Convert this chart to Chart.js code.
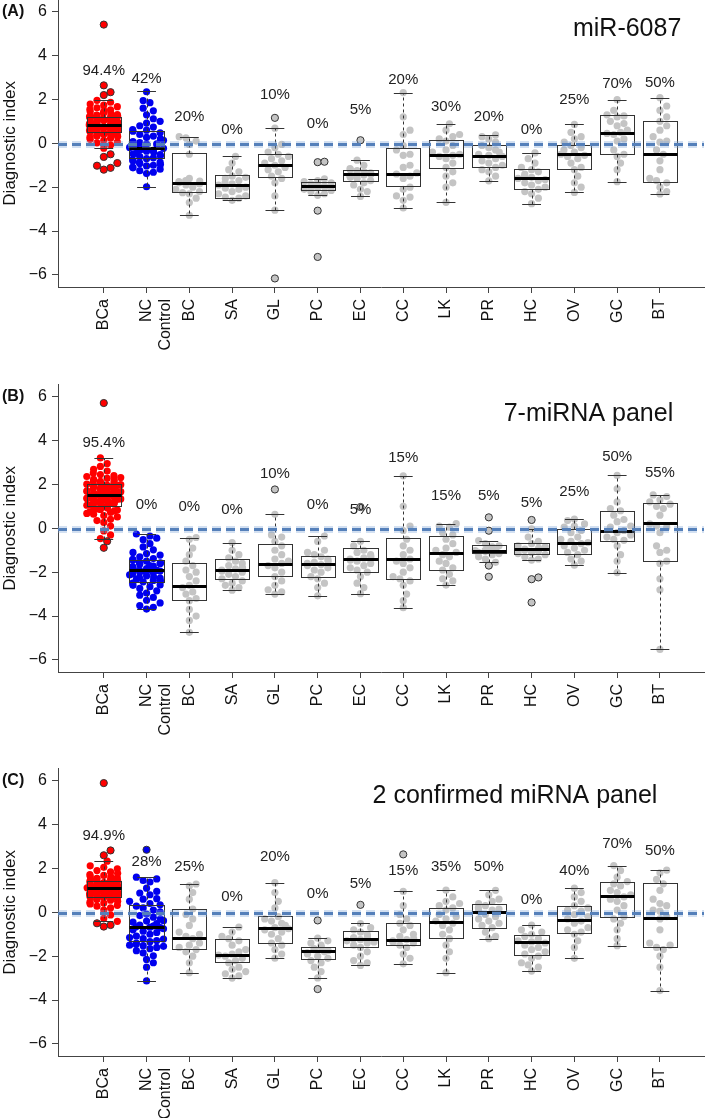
<!DOCTYPE html>
<html>
<head>
<meta charset="utf-8">
<script src="https://cdn.jsdelivr.net/npm/chart.js@4/dist/chart.umd.min.js"></script>
<style>
  body { margin: 0; background: #fff; width: 709px; height: 1118px; overflow: hidden; position: relative; }
  .panel { position: absolute; left: 0; width: 709px; height: 385px; }
</style>
</head>
<body>
<div class="panel" style="top:-15px"><canvas id="panelA" width="709" height="385"></canvas></div>
<div class="panel" style="top:370px"><canvas id="panelB" width="709" height="385"></canvas></div>
<div class="panel" style="top:754px"><canvas id="panelC" width="709" height="385"></canvas></div>
<script>
// categories and axis ticks
var categories = ['BCa', ['NC', 'Control'], 'BC', 'SA', 'GL', 'PC', 'EC', 'CC', 'LK', 'PR', 'HC', 'OV', 'GC', 'BT'];
var yTickValues = [-6, -4, -2, 0, 2, 4, 6];
var cutoff = -0.06;
var panelTags = ['(A)', '(B)', '(C)'];
var panelTitles = ['miR-6087', '7-miRNA panel', '2 confirmed miRNA panel'];

// percentages above each box
var pctA = ['94.4%', '42%', '20%', '0%', '10%', '0%', '5%', '20%', '30%', '20%', '0%', '25%', '70%', '50%'];
var pctB = ['95.4%', '0%', '0%', '0%', '10%', '0%', '5%', '15%', '15%', '5%', '5%', '25%', '50%', '55%'];
var pctC = ['94.9%', '28%', '25%', '0%', '20%', '0%', '5%', '15%', '35%', '50%', '0%', '40%', '70%', '50%'];

// box stats: [lower whisker, q1, median, q3, upper whisker]
var boxA = [[-0.22, 0.53, 0.83, 1.18, 1.96], [-1.98, -0.69, -0.23, 0.56, 2.39], [-3.28, -2.24, -1.83, -0.45, 0.3],
  [-2.6, -2.48, -1.89, -1.45, -0.6], [-3.05, -1.54, -1.0, -0.5, 0.69], [-2.37, -2.11, -1.93, -1.78, -1.62],
  [-2.42, -1.74, -1.4, -1.21, -0.77], [-2.95, -1.93, -1.39, -0.21, 2.31], [-2.69, -1.13, -0.53, 0.14, 0.89],
  [-1.71, -1.09, -0.57, -0.08, 0.38], [-2.75, -2.07, -1.57, -1.18, -0.44], [-2.24, -1.18, -0.5, -0.06, 0.86],
  [-1.75, -0.48, 0.48, 1.28, 1.99], [-2.31, -1.75, -0.5, 1.03, 2.08]];
var boxB = [[-0.47, 1.02, 1.52, 2.0, 3.21], [-3.68, -2.44, -1.92, -1.45, -0.26], [-4.74, -3.29, -2.64, -1.56, -0.42],
  [-2.82, -2.33, -1.92, -1.39, -0.65], [-3.0, -2.17, -1.62, -0.73, 0.64], [-3.08, -2.24, -1.61, -1.24, -0.35],
  [-2.98, -1.98, -1.41, -0.92, -0.59], [-3.62, -2.33, -1.42, -0.42, 2.39], [-2.59, -1.88, -1.14, -0.33, 0.21],
  [-1.55, -1.11, -1.02, -0.76, -0.56], [-1.45, -1.18, -0.95, -0.65, -0.03], [-1.68, -1.15, -0.65, -0.03, 0.42],
  [-2.02, -0.59, -0.14, 0.77, 2.41], [-5.52, -1.5, 0.23, 1.15, 1.52]];
var boxC = [[-0.41, 0.72, 1.09, 1.41, 2.33], [-3.13, -1.29, -0.66, 0.34, 1.6], [-2.75, -1.66, -1.18, 0.14, 1.29],
  [-3.0, -2.27, -1.95, -1.23, -0.67], [-2.09, -1.4, -0.71, -0.18, 1.35], [-2.99, -2.15, -1.75, -1.56, -1.18],
  [-2.42, -1.58, -1.21, -0.84, -0.51], [-2.35, -1.49, -1.26, -0.48, 0.95], [-2.75, -1.15, -0.43, 0.18, 1.01],
  [-1.2, -0.72, 0.03, 0.38, 1.0], [-2.68, -1.95, -1.37, -1.03, -0.58], [-2.1, -0.95, -0.34, 0.29, 1.1],
  [-1.52, -0.2, 0.74, 1.38, 2.13], [-3.57, -1.6, -0.25, 1.32, 1.92]];

// individual samples (within whiskers)
var pointsA = [
  [0.82, 1.12, 0.45, 0.67, 1.35, 0.91, 0.23, 0.58, 1.74, 0.76, 1.05, 0.39, 0.88, 1.21, 0.62, 0.14, 0.97, 1.48, 0.71, 0.53, 1.16, 0.84, 0.31, 1.62, 0.95, 0.69, 1.28, 0.48, 0.79, 1.02, 0.06, 0.57, 1.41, 0.86, 0.73, 1.19, 0.35, 0.92, 1.55, 0.64, 0.81, 1.08, 0.27, 0.99, 1.31, 0.51, 0.77, 1.87, 0.42, 0.89, 1.13, 0.66, -0.08, 0.74, 1.24, 0.59, 0.93, 1.67, 0.18, 0.83, 1.06, 0.47, 1.38, 0.7, 0.96, 0.55, 1.18, -0.22, 0.86, 1.45, 0.61, 0.78, 1.96, 0.33, 1.01, 0.68, 1.27, 0.9, 0.44, 1.1, 0.8, 0.02, 1.52, 0.63, 0.87, 1.22, 0.37, 1.79, 0.75, 1.09],
  [2.35, 1.95, 1.85, 1.6, 1.48, 1.3, 1.12, 1.0, 0.92, 0.8, 0.74, 0.6, 0.55, 0.48, 0.4, 0.33, 0.27, 0.2, 0.14, 0.08, 0.03, -0.04, -0.08, -0.13, -0.19, -0.23, -0.27, -0.32, -0.36, -0.41, -0.46, -0.52, -0.57, -0.61, -0.66, -0.7, -0.76, -0.81, -0.86, -0.92, -0.97, -1.03, -1.08, -1.12, -1.18, -1.25, -1.32, -1.38, -0.02, 0.62, -0.48, -0.88, -0.3, -1.0, -1.98],
  [0.3, 0.25, 0.1, -0.05, -0.5, -1.6, -1.7, -1.75, -1.8, -1.85, -1.9, -2.0, -2.1, -2.2, -2.25, -2.3, -2.5, -2.7, -3.28, -1.72],
  [-0.6, -0.9, -1.2, -1.3, -1.5, -1.55, -1.6, -1.7, -1.8, -1.85, -1.9, -2.0, -2.05, -2.1, -2.2, -2.3, -2.4, -2.45, -2.5, -2.6],
  [0.69, -0.05, -0.2, -0.4, -0.5, -0.6, -0.7, -0.8, -0.9, -1.0, -1.1, -1.2, -1.3, -1.5, -1.6, -1.8, -2.4, -3.05],
  [-1.62, -1.7, -1.75, -1.8, -1.85, -1.9, -1.92, -1.95, -2.0, -2.02, -2.05, -2.1, -2.15, -2.2, -2.3, -2.37],
  [-0.77, -1.0, -1.15, -1.2, -1.25, -1.3, -1.35, -1.4, -1.42, -1.45, -1.5, -1.55, -1.6, -1.7, -1.8, -1.9, -2.1, -2.2, -2.42],
  [2.31, 1.2, 0.6, 0.4, -0.1, -0.3, -0.5, -0.55, -1.0, -1.1, -1.35, -1.4, -1.5, -1.6, -2.0, -2.1, -2.4, -2.45, -2.6, -2.95],
  [0.89, 0.6, 0.4, 0.3, 0.2, 0.1, -0.1, -0.3, -0.4, -0.5, -0.55, -0.6, -0.7, -0.9, -1.1, -1.3, -1.5, -1.8, -2.0, -2.69],
  [0.38, 0.3, 0.2, 0.05, -0.1, -0.2, -0.3, -0.4, -0.5, -0.55, -0.6, -0.7, -0.8, -0.9, -1.0, -1.1, -1.2, -1.3, -1.5, -1.71],
  [-0.44, -0.7, -0.9, -1.1, -1.2, -1.3, -1.4, -1.5, -1.55, -1.6, -1.65, -1.7, -1.8, -1.9, -2.0, -2.1, -2.2, -2.3, -2.5, -2.75],
  [0.86, 0.5, 0.3, 0.2, 0.05, -0.1, -0.2, -0.3, -0.4, -0.5, -0.55, -0.6, -0.7, -0.9, -1.1, -1.2, -1.5, -1.8, -2.0, -2.24],
  [1.99, 1.5, 1.3, 1.25, 1.2, 1.0, 0.9, 0.8, 0.6, 0.5, 0.45, 0.4, 0.2, 0.1, -0.3, -0.5, -0.6, -0.9, -1.2, -1.75],
  [2.08, 1.7, 1.5, 1.2, 1.0, 0.8, 0.6, 0.3, 0.1, 0.05, -0.3, -0.5, -0.8, -1.2, -1.6, -1.7, -1.8, -2.0, -2.2, -2.31]];
var pointsB = [
  [1.52, 1.88, 1.21, 2.14, 0.95, 1.67, 1.34, 2.45, 0.72, 1.59, 1.05, 1.96, 1.43, 2.28, 0.58, 1.76, 1.12, 1.63, 2.05, 0.86, 1.48, 1.91, 1.27, 2.61, 1.38, 0.41, 1.71, 1.02, 2.19, 1.55, 0.79, 1.84, 1.16, 2.36, 1.45, 0.98, 1.69, 2.82, 1.31, 0.64, 1.99, 1.57, 1.09, 2.23, -0.3, 1.41, 1.8, 0.88, 1.62, 2.52, 1.24, 1.93, 0.27, 1.5, 2.08, 1.36, 0.75, 1.73, 1.19, 2.69, 1.53, 0.92, -0.12, 1.86, 1.29, 2.01, 1.6, 0.52, 1.42, 3.21, 1.15, 1.78, 2.31, 0.68, 1.47, 1.95, 0.1, 1.33, 2.12, 1.65, -0.47, 1.07, 1.82, 2.4, 0.83, 1.56, 2.95, 1.25, 0.35, 1.7],
  [-0.26, -0.35, -0.52, -0.7, -0.85, -0.98, -1.1, -1.22, -1.3, -1.38, -1.45, -1.5, -1.55, -1.6, -1.64, -1.7, -1.75, -1.8, -1.84, -1.88, -1.92, -1.95, -1.99, -2.03, -2.08, -2.12, -2.17, -2.22, -2.27, -2.33, -2.38, -2.44, -2.5, -2.58, -2.66, -2.74, -2.85, -2.95, -3.05, -3.15, -3.28, -3.4, -3.52, -3.68, -1.42, -1.9, -2.0, -1.58, -2.25, -1.72, -2.4, -1.15, -2.6, -3.6, -0.45],
  [-0.42, -0.5, -0.9, -1.2, -1.5, -1.7, -1.9, -2.0, -2.2, -2.4, -2.6, -2.7, -2.9, -3.0, -3.2, -3.3, -3.7, -4.0, -4.2, -4.74],
  [-0.65, -1.0, -1.2, -1.35, -1.5, -1.6, -1.7, -1.8, -1.85, -1.9, -1.95, -2.0, -2.1, -2.2, -2.3, -2.4, -2.5, -2.6, -2.7, -2.82],
  [0.64, -0.3, -0.4, -0.6, -0.8, -1.0, -1.2, -1.4, -1.5, -1.6, -1.7, -1.8, -2.0, -2.2, -2.4, -2.6, -2.8, -2.9, -3.0],
  [-0.35, -0.6, -1.0, -1.1, -1.2, -1.3, -1.4, -1.5, -1.55, -1.6, -1.65, -1.7, -1.8, -1.9, -2.0, -2.2, -2.3, -2.5, -2.7, -3.08],
  [-0.59, -0.8, -1.0, -1.1, -1.2, -1.3, -1.35, -1.4, -1.45, -1.5, -1.6, -1.7, -1.8, -1.9, -2.0, -2.2, -2.5, -2.7, -2.98],
  [2.39, 1.0, 0.1, -0.1, -0.5, -0.8, -1.0, -1.2, -1.4, -1.5, -1.6, -1.8, -2.0, -2.2, -2.3, -2.4, -2.6, -3.0, -3.3, -3.62],
  [0.21, 0.1, 0.05, -0.2, -0.3, -0.5, -0.7, -0.9, -1.0, -1.1, -1.2, -1.3, -1.5, -1.6, -1.8, -1.9, -2.1, -2.3, -2.4, -2.59],
  [-0.56, -0.7, -0.8, -0.85, -0.9, -0.95, -1.0, -1.0, -1.02, -1.05, -1.1, -1.15, -1.2, -1.3, -1.4, -1.55],
  [-0.03, -0.4, -0.6, -0.7, -0.8, -0.85, -0.9, -0.95, -1.0, -1.05, -1.1, -1.15, -1.2, -1.3, -1.4, -1.45],
  [0.42, 0.35, 0.2, 0.1, 0.05, -0.1, -0.2, -0.4, -0.5, -0.6, -0.65, -0.7, -0.8, -0.9, -1.0, -1.1, -1.2, -1.4, -1.5, -1.68],
  [2.41, 1.8, 1.2, 0.9, 0.8, 0.6, 0.4, 0.3, 0.1, 0.05, -0.1, -0.2, -0.3, -0.4, -0.5, -0.55, -0.8, -1.2, -1.5, -2.02],
  [1.52, 1.45, 1.3, 1.2, 1.1, 1.0, 0.9, 0.6, 0.2, 0.1, 0.05, -0.2, -0.8, -1.0, -1.1, -1.5, -1.6, -2.3, -2.8, -5.52]];
var pointsC = [
  [1.09, 1.35, 0.78, 1.62, 0.92, 1.21, 0.55, 1.47, 1.02, 0.69, 1.84, 1.15, 0.86, 1.29, 0.38, 1.06, 1.53, 0.74, 1.12, 1.98, 0.95, 0.61, 1.38, 1.18, 0.82, 2.12, 1.01, 0.45, 1.26, 0.89, 1.57, 1.08, 0.71, 1.33, 0.2, 1.16, 0.97, 1.72, 0.64, 1.24, 0.84, 1.44, 1.05, 0.28, 1.11, 1.68, 0.77, 1.3, 0.93, 2.33, 0.5, 1.19, 0.87, 1.41, 1.03, 0.1, 1.22, 0.66, 1.49, 0.99, 1.78, 0.8, 1.14, -0.12, 1.36, 0.9, 0.58, 1.27, 1.07, 1.9, 0.42, 1.2, 0.96, 1.55, 0.73, 1.13, -0.28, 1.32, 0.85, 1.64, 1.04, 0.32, 1.25, 0.79, -0.41, 1.0, 1.45, 0.68, 2.05, 1.17],
  [1.6, 1.52, 1.45, 1.38, 1.1, 0.95, 0.88, 0.8, 0.62, 0.5, 0.4, 0.34, 0.28, 0.2, 0.1, 0.02, -0.08, -0.15, -0.22, -0.3, -0.38, -0.45, -0.52, -0.58, -0.62, -0.66, -0.7, -0.75, -0.8, -0.86, -0.92, -1.0, -1.08, -1.15, -1.22, -1.29, -1.34, -1.4, -1.46, -1.5, -1.55, -1.6, -1.66, -1.75, -1.85, -1.98, -2.15, -2.3, -2.5, -3.13, -0.68, -0.4, -1.52, -1.2, 0.6],
  [1.29, 1.2, 0.9, 0.6, 0.15, -0.1, -0.3, -0.6, -0.9, -1.0, -1.1, -1.2, -1.4, -1.5, -1.6, -1.7, -1.8, -2.0, -2.3, -2.75],
  [-0.67, -0.9, -1.1, -1.2, -1.3, -1.5, -1.7, -1.8, -1.9, -1.95, -2.0, -2.1, -2.2, -2.3, -2.5, -2.6, -2.7, -2.8, -2.9, -3.0],
  [1.35, 0.9, 0.5, 0.2, -0.2, -0.3, -0.4, -0.5, -0.6, -0.7, -0.75, -0.8, -0.9, -1.0, -1.2, -1.4, -1.5, -1.7, -1.9, -2.09],
  [-1.18, -1.3, -1.4, -1.5, -1.6, -1.65, -1.7, -1.75, -1.8, -1.85, -1.9, -2.0, -2.1, -2.2, -2.3, -2.5, -2.7, -2.99],
  [-0.51, -0.7, -0.8, -0.9, -1.0, -1.1, -1.15, -1.2, -1.25, -1.3, -1.35, -1.4, -1.5, -1.6, -1.8, -2.0, -2.2, -2.3, -2.42],
  [0.95, 0.3, -0.1, -0.3, -0.5, -0.6, -0.8, -1.0, -1.1, -1.2, -1.25, -1.3, -1.35, -1.4, -1.5, -1.6, -1.9, -2.1, -2.35],
  [1.01, 0.7, 0.5, 0.4, 0.3, 0.2, 0.1, -0.1, -0.2, -0.3, -0.4, -0.5, -0.6, -0.8, -1.0, -1.2, -1.5, -1.8, -2.1, -2.75],
  [1.0, 0.8, 0.6, 0.5, 0.4, 0.3, 0.2, 0.15, 0.1, 0.05, -0.1, -0.2, -0.3, -0.4, -0.5, -0.6, -0.7, -0.9, -1.1, -1.2],
  [-0.58, -0.8, -0.9, -1.0, -1.1, -1.2, -1.3, -1.35, -1.4, -1.5, -1.6, -1.7, -1.8, -1.9, -2.0, -2.1, -2.3, -2.4, -2.5, -2.68],
  [1.1, 0.9, 0.7, 0.5, 0.3, 0.2, 0.1, 0.05, -0.1, -0.2, -0.3, -0.4, -0.5, -0.7, -0.8, -0.9, -1.0, -1.3, -1.6, -2.1],
  [2.13, 1.9, 1.6, 1.4, 1.3, 1.2, 1.0, 0.9, 0.8, 0.7, 0.6, 0.5, 0.3, 0.1, -0.2, -0.3, -0.5, -0.8, -1.2, -1.52],
  [1.92, 1.8, 1.5, 1.3, 1.0, 0.6, 0.4, 0.3, 0.1, 0.05, -0.2, -0.3, -0.8, -1.4, -1.5, -1.6, -1.7, -2.0, -2.5, -3.57]];

// outliers (beyond whiskers)
var outA = [[5.41, 2.64, 2.33, 2.2, -0.5, -0.62, -0.9, -1.02, -1.12, -1.2], [], [], [], [1.16, -6.16], [-0.86, -0.84, -3.07, -5.18], [0.14], [], [], [], [], [], [], []];
var outB = [[5.71, -0.59, -0.89], [], [], [], [1.77], [], [0.97], [], [], [0.5, -0.11, -1.7, -2.21], [0.38, -2.24, -2.32, -3.38], [], [], []];
var outC = [[5.89, 2.82, 2.6, -0.5, -0.58, -0.65], [2.85], [], [], [], [-0.37, -3.5], [0.34], [2.64], [], [], [], [], [], []];

// where the percentage labels sit (y value)
var pctYA = [3.28, 2.92, 1.21, 0.61, 2.19, 0.88, 1.52, 2.9, 1.65, 1.2, 0.61, 1.97, 2.69, 2.77];
var pctYB = [3.91, 1.09, 1.0, 0.82, 2.48, 1.05, 0.85, 3.21, 1.48, 1.48, 1.18, 1.67, 3.27, 2.52];
var pctYC = [3.5, 2.29, 2.09, 0.72, 2.52, 0.86, 1.29, 1.9, 2.06, 2.06, 0.55, 1.9, 3.1, 2.79];

var RED = '#ff0000', BLUE = '#0000ee', GRAY = '#c4c4c4';
var FONT = "'Liberation Sans', Arial, Helvetica, sans-serif";
Chart.defaults.font.family = FONT;

function groupColor(i) { return i === 0 ? RED : (i === 1 ? BLUE : GRAY); }

// simple beeswarm: spread points sideways so they don't overlap, wrap inside the box width
function swarm(vals, maxOff) {
  var pxX = 42.9, pxY = 22, d = 6.8, step = d / 2;
  var placed = [], res = new Array(vals.length);
  var order = vals.map(function (v, i) { return i; }).sort(function (a, b) { return vals[a] - vals[b]; });
  order.forEach(function (i) {
    var yy = vals[i] * pxY, off = 0;
    for (var k = 0; k < 300; k++) {
      var o = k === 0 ? 0 : ((k % 2) ? 1 : -1) * Math.ceil(k / 2) * step;
      var ok = true;
      for (var j = 0; j < placed.length; j++) {
        var dx = placed[j].x - o, dy = placed[j].y - yy;
        if (dx * dx + dy * dy < d * d) { ok = false; break; }
      }
      if (ok) { off = o; break; }
    }
    placed.push({ x: off, y: yy });
    var u = off / pxX;
    if (Math.abs(u) > maxOff) {
      u = ((u + maxOff) % (2 * maxOff) + 2 * maxOff) % (2 * maxOff) - maxOff;
    }
    res[i] = u;
  });
  return res;
}

var boxPlugin = {
  id: 'boxes',
  afterDatasetsDraw: function (chart, args, opts) {
    var ctx = chart.ctx, x = chart.scales.x, y = chart.scales.y, area = chart.chartArea;
    ctx.save();
    opts.stats.forEach(function (s, i) {
      var c = i + 1;
      var xl = Math.round(x.getPixelForValue(c - 0.4)) + 0.5, xr = Math.round(x.getPixelForValue(c + 0.4)) + 0.5;
      var cl = x.getPixelForValue(c - 0.22), cr = x.getPixelForValue(c + 0.22);
      var xc = Math.round(x.getPixelForValue(c)) + 0.5;
      var p = s.map(function (v) { return Math.round(y.getPixelForValue(v)) + 0.5; });
      ctx.strokeStyle = '#333';
      ctx.lineWidth = 1;
      ctx.setLineDash([3, 3]);
      ctx.beginPath();
      ctx.moveTo(xc, p[3]); ctx.lineTo(xc, p[4]);
      ctx.moveTo(xc, p[1]); ctx.lineTo(xc, p[0]);
      ctx.stroke();
      ctx.setLineDash([]);
      ctx.lineWidth = 1.2;
      ctx.beginPath();
      ctx.moveTo(cl, p[4]); ctx.lineTo(cr, p[4]);
      ctx.moveTo(cl, p[0]); ctx.lineTo(cr, p[0]);
      ctx.stroke();
      ctx.lineWidth = 1;
      ctx.strokeRect(xl, p[3], xr - xl, p[1] - p[3]);
      ctx.strokeStyle = '#000';
      ctx.lineWidth = 3;
      ctx.beginPath();
      ctx.moveTo(xl, p[2]); ctx.lineTo(xr, p[2]);
      ctx.stroke();
    });

    // cutoff line
    var yc = y.getPixelForValue(cutoff);
    ctx.setLineDash([9, 5]);
    ctx.strokeStyle = 'rgba(130,165,215,0.35)';
    ctx.lineWidth = 7;
    ctx.beginPath(); ctx.moveTo(area.left, yc); ctx.lineTo(area.right, yc); ctx.stroke();
    ctx.strokeStyle = '#5580ba';
    ctx.lineWidth = 3;
    ctx.beginPath(); ctx.moveTo(area.left, yc); ctx.lineTo(area.right, yc); ctx.stroke();
    ctx.setLineDash([]);

    // percentages
    ctx.fillStyle = '#222';
    ctx.font = '15px ' + FONT;
    ctx.textAlign = 'center';
    ctx.textBaseline = 'middle';
    opts.pct.forEach(function (t, i) {
      ctx.fillText(t, x.getPixelForValue(i + 1), y.getPixelForValue(opts.pctY[i]));
    });

    // panel title
    ctx.fillStyle = '#111';
    ctx.font = '25px ' + FONT;
    ctx.textAlign = 'right';
    ctx.fillText(opts.title, x.getPixelForValue(opts.titleAt[0]), y.getPixelForValue(opts.titleAt[1]));

    // panel tag
    ctx.font = 'bold 16px ' + FONT;
    ctx.textAlign = 'left';
    ctx.fillText(opts.tag, 2, y.getPixelForValue(6));
    ctx.restore();
  }
};

function makePanel(id, k, stats, pts, outs, pct, pctY, titleAt) {
  var normal = [], normalCol = [], outl = [], outlCol = [];
  pts.forEach(function (vals, i) {
    var all = vals.concat(outs[i]);
    var offs = swarm(all, i < 2 ? 0.4 : 0.32);
    all.forEach(function (v, j) {
      var pt = { x: i + 1 + offs[j], y: v };
      if (j < vals.length) { normal.push(pt); normalCol.push(groupColor(i)); }
      else { outl.push(pt); outlCol.push(groupColor(i)); }
    });
  });

  return new Chart(document.getElementById(id), {
    type: 'scatter',
    data: {
      datasets: [
        { label: 'outliers', data: outl, pointRadius: 3.6, pointBackgroundColor: outlCol,
          pointBorderColor: '#333', pointBorderWidth: 1 },
        { label: 'samples', data: normal, pointRadius: 3.6, pointBackgroundColor: normalCol,
          pointBorderWidth: 0 }
      ]
    },
    plugins: [boxPlugin],
    options: {
      responsive: false,
      animation: false,
      events: [],
      layout: { padding: { top: 14, right: 3, left: 0, bottom: 0 } },
      plugins: {
        legend: { display: false },
        tooltip: { enabled: false },
        boxes: { stats: stats, pct: pct, pctY: pctY, title: panelTitles[k], tag: panelTags[k], titleAt: titleAt }
      },
      scales: {
        x: {
          type: 'linear',
          min: -0.07,
          max: 15.03,
          afterBuildTicks: function (scale) {
            scale.ticks = categories.map(function (c, i) { return { value: i + 1 }; });
          },
          afterFit: function (scale) { scale.height = 83; },
          grid: { drawOnChartArea: false, drawTicks: true, tickLength: 6, color: '#444' },
          border: { display: true, color: '#444', width: 1 },
          ticks: {
            autoSkip: false,
            minRotation: 90,
            maxRotation: 90,
            padding: 6,
            color: '#111',
            font: { size: 16 },
            callback: function (v) { return categories[v - 1]; }
          }
        },
        y: {
          min: -6.55,
          max: 6.55,
          afterBuildTicks: function (scale) {
            scale.ticks = yTickValues.map(function (v) { return { value: v }; });
          },
          afterFit: function (scale) { scale.width = 58; },
          grid: { drawOnChartArea: false, drawTicks: true, tickLength: 6, color: '#444' },
          border: { display: true, color: '#444', width: 1 },
          title: { display: true, text: 'Diagnostic index', color: '#111', font: { size: 17 }, padding: { top: 0, bottom: 0 } },
          ticks: {
            padding: 5,
            color: '#111',
            font: { size: 16 },
            callback: function (v) { return v < 0 ? '\u2212' + Math.abs(v) : String(v); }
          }
        }
      }
    }
  });
}

makePanel('panelA', 0, boxA, pointsA, outA, pctA, pctYA, [14.5, 5.2]);
makePanel('panelB', 1, boxB, pointsB, outB, pctB, pctYB, [14.31, 5.21]);
makePanel('panelC', 2, boxC, pointsC, outC, pctC, pctYC, [13.94, 5.28]);
</script>
</body>
</html>
